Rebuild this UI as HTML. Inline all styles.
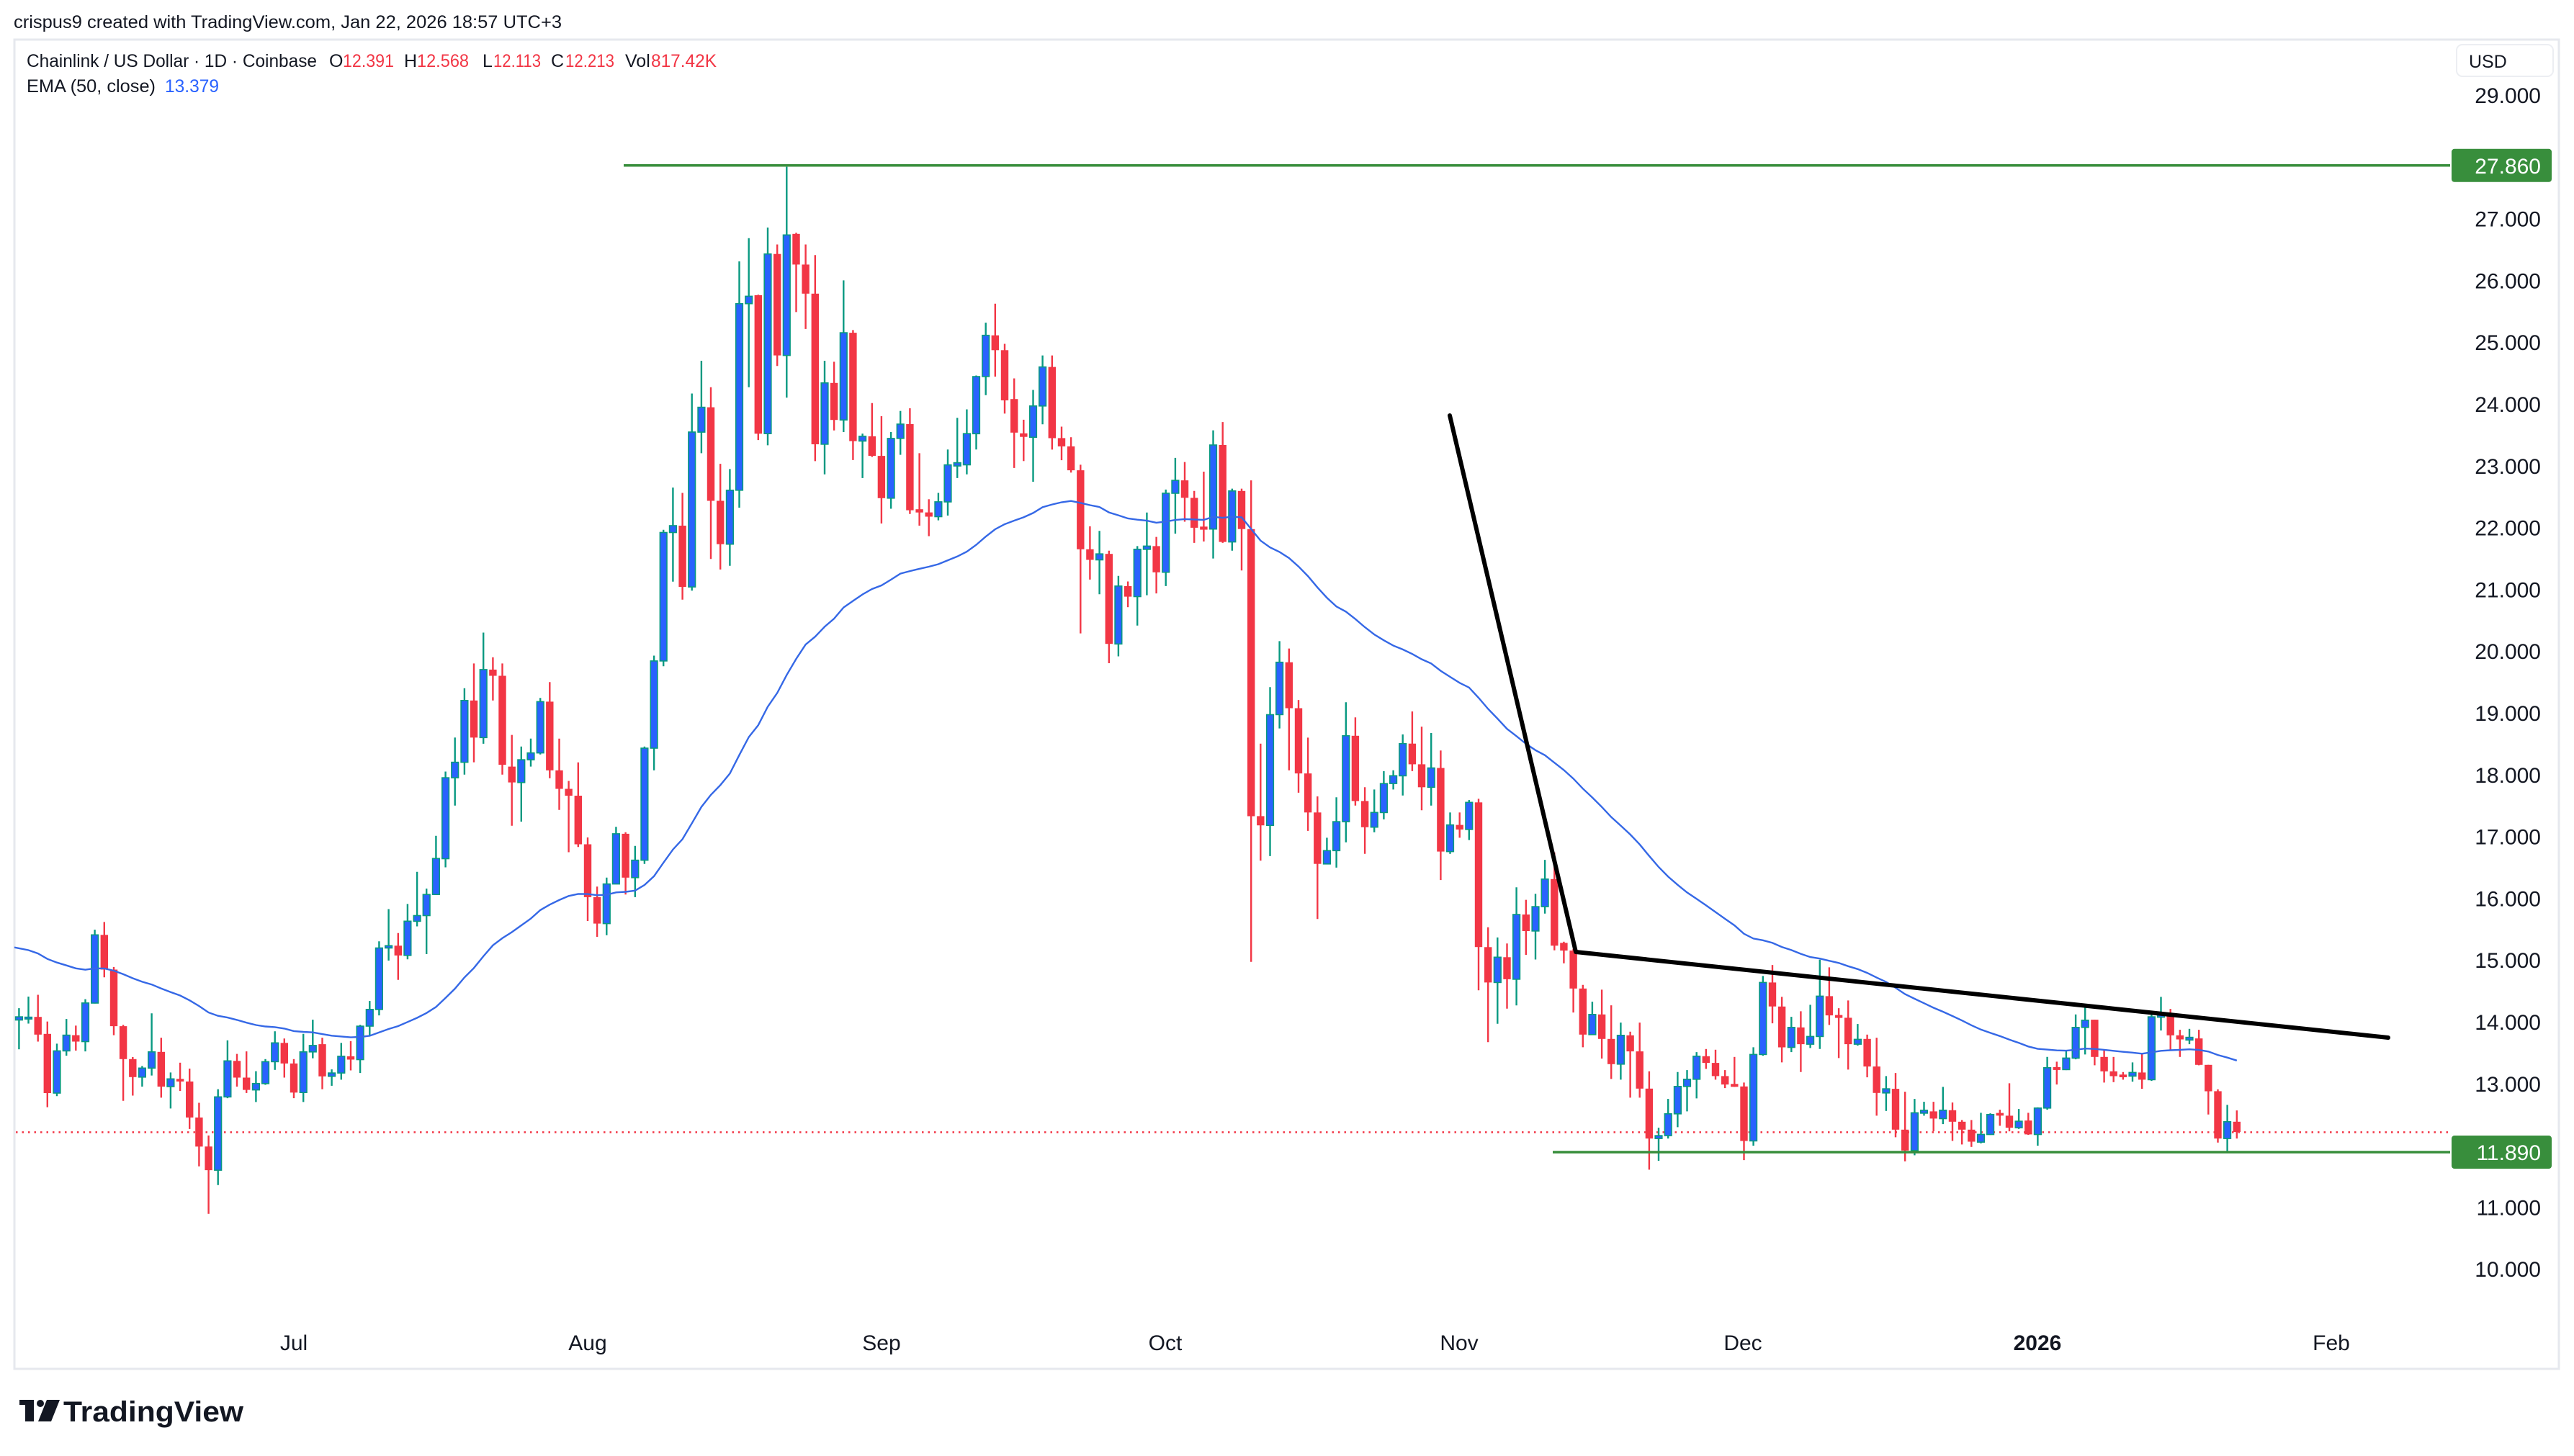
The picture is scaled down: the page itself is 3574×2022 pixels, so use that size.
<!DOCTYPE html>
<html><head><meta charset="utf-8">
<style>
html,body{margin:0;padding:0;background:#fff;}
svg{display:block;}
text{font-family:"Liberation Sans",Arial,sans-serif;}
</style></head>
<body>
<svg id="s" width="3574" height="2022" viewBox="0 0 3574 2022" xmlns="http://www.w3.org/2000/svg">
<rect x="0" y="0" width="3574" height="2022" fill="#fff"/>
<rect x="20" y="55" width="3533" height="1846" fill="#fff" stroke="#e6e8ee" stroke-width="3"/>
<text x="19" y="39" font-size="25" fill="#131722" textLength="761" lengthAdjust="spacingAndGlyphs">crispus9 created with TradingView.com, Jan 22, 2026 18:57 UTC+3</text>
<text x="37" y="93" font-size="25" fill="#131722" textLength="403" lengthAdjust="spacingAndGlyphs">Chainlink / US Dollar · 1D · Coinbase</text>
<text x="457" y="93" font-size="25" fill="#131722">O</text><text x="476" y="93" font-size="25" fill="#F23645" textLength="71" lengthAdjust="spacingAndGlyphs">12.391</text>
<text x="561" y="93" font-size="25" fill="#131722">H</text><text x="579" y="93" font-size="25" fill="#F23645" textLength="72" lengthAdjust="spacingAndGlyphs">12.568</text>
<text x="670" y="93" font-size="25" fill="#131722">L</text><text x="685" y="93" font-size="25" fill="#F23645" textLength="66" lengthAdjust="spacingAndGlyphs">12.113</text>
<text x="765" y="93" font-size="25" fill="#131722">C</text><text x="785" y="93" font-size="25" fill="#F23645" textLength="68" lengthAdjust="spacingAndGlyphs">12.213</text>
<text x="868" y="93" font-size="25" fill="#131722">Vol</text><text x="904" y="93" font-size="25" fill="#F23645" textLength="91" lengthAdjust="spacingAndGlyphs">817.42K</text>
<text x="37" y="128" font-size="25" fill="#131722" textLength="179" lengthAdjust="spacingAndGlyphs">EMA (50, close)</text>
<text x="229" y="128" font-size="25" fill="#2962FF" textLength="75" lengthAdjust="spacingAndGlyphs">13.379</text>
<rect x="3411" y="62" width="134" height="44" rx="8" fill="#fff" stroke="#eceef2" stroke-width="2"/>
<text x="3428" y="94" font-size="25" fill="#131722">USD</text>
<g id="axis" font-size="30" fill="#131722" text-anchor="end"></g>
<g id="time" font-size="30" fill="#131722" text-anchor="middle">
<text x="408" y="1875">Jul</text>
<text x="816" y="1875">Aug</text>
<text x="1224" y="1875">Sep</text>
<text x="1618" y="1875">Oct</text>
<text x="2026" y="1875">Nov</text>
<text x="2420" y="1875">Dec</text>
<text x="2829" y="1875" font-weight="bold">2026</text>
<text x="3237" y="1875">Feb</text>
</g>
<g id="plot"></g>
<g transform="translate(27,1944)">
<rect x="0" y="0" width="20" height="7" fill="#131722"/>
<rect x="8" y="0" width="12" height="30" fill="#131722"/>
<circle cx="29" cy="5" r="5" fill="#131722"/>
<polygon points="38,0 56,0 44,30 26,30" fill="#131722"/>
</g>
<text x="88" y="1974" font-size="40" font-weight="bold" fill="#131722" textLength="250" lengthAdjust="spacingAndGlyphs">TradingView</text>
</svg>
<script>
(function(){
var NS="http://www.w3.org/2000/svg";
function yOf(p){return 132+(29-p)*85.8;}
function xOf(d){return 408+13.16*d;}
var cA=function(z){return 17.135-z/240.2;};
var cB=function(z){return 28.207-z/116.9;};
var cC=function(z){return 24.711-z/134.5;};
var cD=function(z){return 16.015-z/257.4;};
var A=[[742,738,700,860],[742,735,655,760],[734,803,648,830],[800,1030,752,1085],[1030,866,838,1042],[866,805,742,885],[805,830,768,865],[830,680,665,868],[680,415,395,682],[415,550,365,580],[550,770,540,805],[770,898,765,1060],[898,968,890,1040],[968,933,925,1005],[933,870,720,962],[870,1005,815,1048],[1005,975,950,1090],[975,985,912,1022],[985,1125,935,1170],[1125,1238,1068,1315],[1238,1330,1195,1500],[1330,1045,1015,1388],[1045,905,825,1050],[905,970,878,1005],[970,1018,868,1030],[1018,993,945,1065],[993,908,898,998],[908,835,790,940],[835,915,818,970],[915,1028,898,1050],[1028,870,800,1065],[870,845,745,895],[840,965,815,1015],[965,952,938,1002],[952,887,835,978],[887,900,828,942],[900,770,765,952],[770,705,672,808],[705,466,440,728],[466,457,315,515],[457,495,408,590],[495,362,295,510],[362,340,170,382],[340,258,235,490],[258,118,30,200]];
var P=[[16.64,17.95,18.05,16.5],[17.95,18.2,18.6,17.5],[18.2,19.2,19.4,18.0],[19.2,18.6,19.8,18.2],[18.6,19.7,20.3,18.5],[19.7,19.6,19.9,19.2],[19.6,18.16,19.8,18.0]];
var B=[[1178,1208,1118,1290],[1208,1165,1140,1282],[1165,1152,1125,1178],[1152,1055,1048,1155],[1055,1185,1018,1200],[1185,1220,1125,1260],[1220,1233,1205,1340],[1233,1325,1170,1330],[1325,1425,1312,1470],[1425,1475,1405,1500],[1475,1400,1388,1497],[1400,1305,1292,1398],[1305,1388,1302,1420],[1388,1355,1328,1425],[1355,1143,1140,1362],[1143,978,968,1185],[978,735,730,988],[735,722,650,828],[722,838,660,862],[838,545,472,845],[545,498,410,585],[498,675,460,785],[675,757,605,805],[757,655,615,798],[655,302,222,688],[302,288,178,460],[286,548,285,560],[548,208,158,570],[208,400,190,420],[400,172,43,480],[170,228,168,318],[228,283,190,350],[283,568,210,600],[568,452,410,625],[452,522,412,542],[522,357,258,545],[357,562,352,598],[562,553,548,632],[553,590,490,592],[590,670,515,718],[670,557,545,690],[557,530,505,588],[530,693,500,700],[693,695,585,722],[697,705,672,742],[705,677,660,712],[677,607,578,703],[607,605,518,632],[607,548,502,625],[548,440,438,578],[440,362,338,475],[362,390,302,440],[390,485,378,510]];
var C=[[85,158,40,235],[162,165,130,220],[168,100,65,265],[100,15,-10,140],[15,170,-10,195],[170,188,145,218],[188,240,168,245],[240,412,228,595],[412,435,362,478],[435,422,372,510],[422,618,415,660],[618,492,470,645],[492,515,482,538],[515,412,405,578],[412,405,332,512],[405,462,385,508],[462,290,282,492],[290,262,213,378],[262,300,222,352],[300,365,285,398],[365,367,243,395],[368,185,153,432],[185,396,135,398],[396,285,280,415],[285,368,280,458],[368,993,262,1310],[993,1013,835,1090],[1013,772,712,1080],[772,658,612,802],[658,758,628,893],[758,900,740,942],[900,985,822,1025],[985,1097,950,1217],[1097,1068,1040,1098],[1068,1005,952,1105],[1005,818,745,1050],[818,960,778,970],[960,1017,930,1075],[1017,985,935,1028],[985,922,895,1000],[922,905,893,935],[905,835,815,948],[835,880,765,895],[880,930,798,980],[930,888,812,970],[888,1070,850,1132],[1070,1012,985,1075],[1012,1022,985,1040],[1022,963,958,1045],[963,1278,955,1372],[1278,1355,1235,1485],[1355,1300,1257,1445],[1300,1348,1270,1412],[1348,1207,1148,1405],[1207,1243,1175,1295],[1243,1190,1162,1305],[1190,1130,1088,1205],[1130,1275,1072,1285]];
var D=[[190,222,185,275],[222,380,215,480],[380,572,365,625],[572,488,435,572],[488,590,385,672],[590,695,450,757],[695,575,522,760],[575,642,560,835],[642,797,522,835],[797,1005,725,1135],[1005,993,960,1098],[993,902,840,1005],[902,788,728,958],[788,758,720,892],[758,662,645,838],[662,690,632,715],[690,745,635,760],[745,780,720,795],[782,785,665,790],[788,1015,772,1095],[1015,655,625,1035],[655,355,328,660],[355,455,282,525],[455,625,415,688],[625,542,498,645],[542,612,475,728],[612,580,448,628],[580,412,260,632],[412,492,292,532],[495,498,462,670],[502,612,430,718],[612,592,528,618],[590,705,572,750],[705,815,585,910],[815,798,745,890],[798,968,732,1000],[968,1055,810,1100],[1055,898,840,1075],[895,892,852,910],[892,922,852,975],[922,887,790,945],[887,935,855,1015],[935,968,928,1030],[968,1018,928,1040],[1020,988,898,1025],[988,905,900,990],[903,905,885,952],[910,960,775,975],[960,933,882,965],[930,988,898,990],[988,878,875,1035],[878,710,665,885],[712,715,685,780],[718,670,638,720],[670,542,488,675],[542,512,460,655],[510,665,510,700],[665,725,635,772],[725,745,665,770],[743,745,728,760],[745,730,688,768],[730,760,650,798],[760,498,478,765],[495,492,415,555],[488,575,465,635],[575,592,552,665],[590,588,548,612],[588,698,552,700],[698,808,698,905],[808,1005,800,1022],[1005,935,865,1060],[935,978,888,1005]];
var data=[];
A.forEach(function(r){data.push(r.map(cA));});
P.forEach(function(r){data.push(r);});
B.forEach(function(r){data.push(r.map(cB));});
C.forEach(function(r){data.push(r.map(cC));});
D.forEach(function(r){data.push(r.map(cD));});
var h='';
// EMA
var ema=15.25,k=2/51,pts=[];
data.forEach(function(r,i){ema=r[1]*k+ema*(1-k);var d=i-29;pts.push((d===-29?xOf(d)-8:xOf(d)).toFixed(1)+','+yOf(ema).toFixed(1));});
pts[0]='20,'+pts[0].split(',')[1];
// dotted current price
var yc=yOf(12.213);
h+='<line x1="22" y1="'+yc+'" x2="3400" y2="'+yc+'" stroke="#F23645" stroke-width="2.5" stroke-dasharray="2.5,6"/>';
data.forEach(function(r,i){
 var o=r[0],c=r[1],hi=Math.max(r[2],o,c),lo=Math.min(r[3],o,c);
 var x=xOf(i-29),up=c>=o;
 var wc=up?'#089981':'#F23645';
 h+='<line x1="'+x.toFixed(1)+'" y1="'+yOf(hi).toFixed(1)+'" x2="'+x.toFixed(1)+'" y2="'+yOf(lo).toFixed(1)+'" stroke="'+wc+'" stroke-width="2.4"/>';
 var yt=yOf(Math.max(o,c)),yb=yOf(Math.min(o,c));if(yb-yt<2.5){yt-=1.5;yb+=1.5;}
 if(up){h+='<rect x="'+(x-4.8).toFixed(1)+'" y="'+yt.toFixed(1)+'" width="9.6" height="'+(yb-yt).toFixed(1)+'" fill="#2962FF" stroke="#089981" stroke-width="1.6"/>';}
 else{h+='<rect x="'+(x-5.2).toFixed(1)+'" y="'+yt.toFixed(1)+'" width="10.4" height="'+(yb-yt).toFixed(1)+'" fill="#F23645"/>';}
});
h+='<polyline points="'+pts.join(' ')+'" fill="none" stroke="#3568e6" stroke-width="2.4"/>';
// green lines
var yg1=yOf(27.86),yg2=yOf(11.89);
h+='<line x1="866" y1="'+yg1+'" x2="3402" y2="'+yg1+'" stroke="#388E3C" stroke-width="3.5"/>';
h+='<line x1="2156" y1="'+yg2+'" x2="3402" y2="'+yg2+'" stroke="#388E3C" stroke-width="3.5"/>';
// black trendlines
h+='<polyline points="2013,577 2188,1322 3316,1441" fill="none" stroke="#000" stroke-width="6" stroke-linecap="round" stroke-linejoin="round"/>';
document.getElementById('plot').innerHTML=h;
// axis
var a='';
for(var p=10;p<=29;p++){if(p===28)continue;a+='<text x="3528" y="'+(yOf(p)+11).toFixed(1)+'">'+p+'.000</text>';}
a+='<rect x="3404" y="'+(yg1-23)+'" width="139" height="46" rx="4" fill="#388E3C"/><text x="3528" y="'+(yg1+11)+'" fill="#fff">27.860</text>';
a+='<rect x="3404" y="'+(yg2-23)+'" width="139" height="46" rx="4" fill="#388E3C"/><text x="3528" y="'+(yg2+11)+'" fill="#fff">11.890</text>';
document.getElementById('axis').innerHTML=a;
})();
</script>
</body></html>
